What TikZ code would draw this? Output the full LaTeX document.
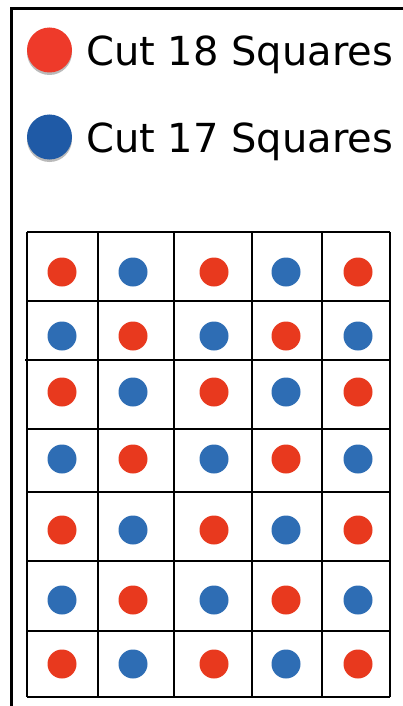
\documentclass[tikz,border=0pt]{standalone}
\usepackage{fontspec}
\setmainfont{DejaVu Sans}
\definecolor{cred}{HTML}{E8391E}
\definecolor{cblue}{HTML}{2E6DB4}
\definecolor{lred}{HTML}{EE3A2A}
\definecolor{lblue}{HTML}{1F5AA6}
\begin{document}
\begin{tikzpicture}[x=1pt,y=-1pt,
  dotr/.style={circle,fill=cred,inner sep=0pt,minimum size=29pt},
  dotb/.style={circle,fill=cblue,inner sep=0pt,minimum size=29pt},
  legdot/.style={circle,inner sep=0pt,minimum size=45pt},
  legtext/.style={anchor=base west,inner sep=0pt,font=\fontsize{40}{46}\selectfont},
  gridline/.style={line width=2.4pt,black},
  frameline/.style={line width=3pt,black}]
\useasboundingbox (0,0) rectangle (403,706);
\fill[white] (0,0) rectangle (403,706);
% frame
\draw[frameline] (11,706) -- (11,8.5) -- (403,8.5);
% legend
\fill[black!45,opacity=0.6] (49.5,52.5) circle (22.5);
\node[legdot,fill=lred] (lr) at (49.5,50) {};
\fill[black!45,opacity=0.6] (49.5,139.5) circle (22.5);
\node[legdot,fill=lblue] (lb) at (49.5,137) {};
\node[legtext] (t18) at (86,65.5) {Cut 18 Squares};
\node[legtext] (t17) at (86,152.5) {Cut 17 Squares};
% grid
\foreach \x in {27,98,174,252,322,390} \draw[gridline] (\x,232) -- (\x,697);
\foreach \y in {232,301,697} \draw[gridline] (27,\y) -- (390,\y);
\draw[gridline] (25,360) -- (390,360);
\foreach \y in {429,492,561,631} \draw[gridline] (27,\y) -- (390,\y);
% dots
\foreach \y [count=\r] in {272,336,392,459,530,600,664}{
  \foreach \x [count=\c] in {62,133,214,286,358}{
    \pgfmathtruncatemacro{\myparity}{mod(\r+\c,2)}
    \ifnum\myparity=0
      \node[dotr] (d-\r-\c) at (\x,\y) {};
    \else
      \node[dotb] (d-\r-\c) at (\x,\y) {};
    \fi
  }
}
\end{tikzpicture}
\end{document}
